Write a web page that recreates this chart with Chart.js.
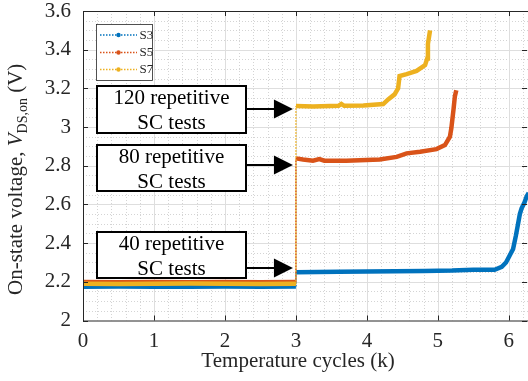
<!DOCTYPE html>
<html>
<head>
<meta charset="utf-8">
<script src="https://cdn.jsdelivr.net/npm/chart.js@4.4.1/dist/chart.umd.min.js"></script>
<style>
    html, body { margin: 0; padding: 0; background: #fff; }
    #wrap { width: 528px; height: 381px; }
</style>
</head>
<body>
<div id="wrap"><canvas id="vds-chart" width="528" height="381"></canvas></div>
<script>
// Data (x in thousands of temperature cycles, y in volts)
const s3X = [0, 0.5, 1.0, 1.5, 2.0, 2.5, 3.0, 3.0, 3.3, 3.6, 4.0, 4.4, 4.8, 5.2, 5.5, 5.7, 5.8, 5.9, 5.96, 6.01, 6.06, 6.1, 6.13, 6.155, 6.18, 6.22, 6.25, 6.28];
const s3Y = [2.175, 2.176, 2.174, 2.175, 2.176, 2.175, 2.176, 2.250, 2.251, 2.252, 2.253, 2.255, 2.256, 2.258, 2.262, 2.263, 2.262, 2.277, 2.300, 2.335, 2.370, 2.440, 2.500, 2.550, 2.580, 2.610, 2.640, 2.660];

const s5X = [0, 0.5, 1.0, 1.5, 2.0, 2.5, 3.0, 3.0, 3.1, 3.24, 3.33, 3.4, 3.71, 4.18, 4.42, 4.56, 4.75, 4.98, 5.10, 5.17, 5.19, 5.22, 5.24, 5.26];
const s5Y = [2.199, 2.198, 2.199, 2.198, 2.199, 2.198, 2.199, 2.838, 2.832, 2.826, 2.834, 2.826, 2.826, 2.832, 2.846, 2.864, 2.872, 2.886, 2.907, 2.950, 2.994, 3.090, 3.160, 3.190];

const s7X = [0, 0.5, 1.0, 1.5, 2.0, 2.5, 3.0, 3.0, 3.24, 3.6, 3.64, 3.68, 3.95, 4.23, 4.30, 4.39, 4.44, 4.46, 4.56, 4.70, 4.82, 4.85, 4.86, 4.89];
const s7Y = [2.190, 2.189, 2.190, 2.191, 2.190, 2.189, 2.190, 3.109, 3.106, 3.110, 3.120, 3.110, 3.112, 3.119, 3.143, 3.169, 3.200, 3.264, 3.274, 3.290, 3.320, 3.355, 3.430, 3.500];

const seriesNames = ['S3', 'S5', 'S7'];
const seriesColors = ['#0072BD', '#D95319', '#EDB120'];

const xTicks = [0, 1, 2, 3, 4, 5, 6];
const yTicks = [2, 2.2, 2.4, 2.6, 2.8, 3, 3.2, 3.4, 3.6];

const annotations = [
    { lines: ['120 repetitive', 'SC tests'], top: 86, bottom: 133, arrowY: 109 },
    { lines: ['80 repetitive', 'SC tests'], top: 145, bottom: 191, arrowY: 165 },
    { lines: ['40 repetitive', 'SC tests'], top: 232, bottom: 278, arrowY: 268 }
];

const SERIF = "'Liberation Serif', 'Times New Roman', serif";
const AXIS_COLOR = '#262626';

const toPoints = (xs, ys) => xs.map((x, i) => ({ x: x, y: ys[i] }));

// The step at 3 k cycles is drawn as a thin dotted line (MATLAB ':' style)
const isJump = ctx => ctx.p0.parsed.x === ctx.p1.parsed.x;

function makeDataset(name, color, xs, ys, order) {
    return {
        label: name,
        data: toPoints(xs, ys),
        borderColor: color,
        backgroundColor: color,
        borderWidth: 4.5,
        pointRadius: 0,
        tension: 0,
        order: order,
        segment: {
            borderDash: ctx => isJump(ctx) ? [1.5, 1.5] : undefined,
            borderWidth: ctx => isJump(ctx) ? 1.5 : undefined
        }
    };
}

// Grid, box, inward ticks, legend, annotations and axis titles
const matlabAxes = {
    id: 'matlabAxes',
    beforeDatasetsDraw(chart) {
        const { ctx, chartArea: a, scales: { x, y } } = chart;
        ctx.save();
        ctx.beginPath();
        ctx.rect(a.left, a.top, a.right - a.left, a.bottom - a.top);
        ctx.clip();

        // minor grid (dotted)
        ctx.strokeStyle = '#d4d4d4';
        ctx.lineWidth = 1;
        ctx.setLineDash([1, 2]);
        ctx.beginPath();
        for (let v = 0; v <= x.max + 1e-9; v += 0.2) {
            const px = Math.round(x.getPixelForValue(v)) + 0.5;
            ctx.moveTo(px, a.top); ctx.lineTo(px, a.bottom);
        }
        for (let v = y.min; v <= y.max + 1e-9; v += 0.05) {
            const py = Math.round(y.getPixelForValue(v)) + 0.5;
            ctx.moveTo(a.left, py); ctx.lineTo(a.right, py);
        }
        ctx.stroke();

        // major grid
        ctx.setLineDash([]);
        ctx.strokeStyle = '#dedede';
        ctx.beginPath();
        xTicks.forEach(v => {
            const px = Math.round(x.getPixelForValue(v)) + 0.5;
            ctx.moveTo(px, a.top); ctx.lineTo(px, a.bottom);
        });
        yTicks.forEach(v => {
            const py = Math.round(y.getPixelForValue(v)) + 0.5;
            ctx.moveTo(a.left, py); ctx.lineTo(a.right, py);
        });
        ctx.stroke();
        ctx.restore();
    },
    afterDatasetsDraw(chart) {
        const { ctx, chartArea: a, scales: { x, y } } = chart;
        ctx.save();

        // axes box
        ctx.strokeStyle = AXIS_COLOR;
        ctx.lineWidth = 1;
        ctx.beginPath();
        ctx.moveTo(a.left + 0.5, a.top + 0.5);
        ctx.lineTo(a.left + 0.5, a.bottom + 0.5);
        ctx.lineTo(a.right, a.bottom + 0.5);
        ctx.moveTo(a.left, a.top + 0.5);
        ctx.lineTo(a.right, a.top + 0.5);
        // inward tick marks
        const tl = 5;
        xTicks.forEach(v => {
            const px = Math.round(x.getPixelForValue(v)) + 0.5;
            ctx.moveTo(px, a.bottom); ctx.lineTo(px, a.bottom - tl);
            ctx.moveTo(px, a.top); ctx.lineTo(px, a.top + tl);
        });
        yTicks.forEach(v => {
            const py = Math.round(y.getPixelForValue(v)) + 0.5;
            ctx.moveTo(a.left, py); ctx.lineTo(a.left + tl, py);
            ctx.moveTo(a.right - 1, py); ctx.lineTo(a.right - 1 - tl, py);
        });
        ctx.stroke();

        // legend
        const lg = { left: 96, top: 24, right: 152, bottom: 80 };
        ctx.fillStyle = '#fff';
        ctx.fillRect(lg.left, lg.top, lg.right - lg.left, lg.bottom - lg.top);
        ctx.strokeStyle = AXIS_COLOR;
        ctx.lineWidth = 0.8;
        ctx.strokeRect(lg.left + 0.5, lg.top + 0.5, lg.right - lg.left, lg.bottom - lg.top);
        const rowY = [35, 52.5, 69.5];
        ctx.font = '13px ' + SERIF;
        ctx.textBaseline = 'middle';
        ctx.textAlign = 'left';
        seriesNames.forEach((name, i) => {
            ctx.strokeStyle = seriesColors[i];
            ctx.lineWidth = 1.5;
            ctx.setLineDash([1.5, 1.5]);
            ctx.beginPath();
            ctx.moveTo(100, rowY[i]); ctx.lineTo(137, rowY[i]);
            ctx.stroke();
            ctx.setLineDash([]);
            ctx.fillStyle = seriesColors[i];
            ctx.beginPath();
            ctx.arc(118.5, rowY[i], 2.2, 0, Math.PI * 2);
            ctx.fill();
            ctx.fillStyle = AXIS_COLOR;
            ctx.fillText(name, 139.5, rowY[i] + 0.5);
        });

        // annotation boxes with arrows pointing at the 3 k step
        const boxL = 97, boxR = 246;
        const tipX = x.getPixelForValue(3) - 3;
        ctx.font = '21px ' + SERIF;
        ctx.textAlign = 'center';
        ctx.textBaseline = 'alphabetic';
        annotations.forEach(an => {
            ctx.fillStyle = '#fff';
            ctx.fillRect(boxL, an.top, boxR - boxL, an.bottom - an.top);
            ctx.strokeStyle = '#000';
            ctx.lineWidth = 2;
            ctx.strokeRect(boxL, an.top, boxR - boxL, an.bottom - an.top);
            ctx.fillStyle = '#000';
            ctx.fillText(an.lines[0], (boxL + boxR) / 2, an.top + 18);
            ctx.fillText(an.lines[1], (boxL + boxR) / 2, an.top + 43);

            ctx.beginPath();
            ctx.moveTo(boxR, an.arrowY);
            ctx.lineTo(tipX - 17, an.arrowY);
            ctx.stroke();
            ctx.beginPath();
            ctx.moveTo(tipX, an.arrowY);
            ctx.lineTo(tipX - 19, an.arrowY - 9.5);
            ctx.lineTo(tipX - 19, an.arrowY + 9.5);
            ctx.closePath();
            ctx.fill();
        });

        // x axis title
        ctx.fillStyle = AXIS_COLOR;
        ctx.font = '21px ' + SERIF;
        ctx.textAlign = 'center';
        ctx.fillText('Temperature cycles (k)', 298, 367);

        // y axis title with italic V and subscript
        ctx.translate(21.5, 295);
        ctx.rotate(-Math.PI / 2);
        ctx.textAlign = 'left';
        const parts = [
            { t: 'On-state voltage, ', f: '21px ' + SERIF, dy: 0 },
            { t: 'V', f: 'italic 21px ' + SERIF, dy: 0 },
            { t: 'DS,on', f: '14px ' + SERIF, dy: 5 },
            { t: ' (V)', f: '21px ' + SERIF, dy: 0 }
        ];
        let cx = 0;
        parts.forEach(p => {
            ctx.font = p.f;
            ctx.fillText(p.t, cx, p.dy);
            cx += ctx.measureText(p.t).width;
        });
        ctx.restore();
    }
};

// keep the plot box where the reference has it (no extra room for edge labels)
function noEdgePadding(scale) {
    scale.paddingTop = 0;
    scale.paddingBottom = 0;
    scale.paddingLeft = 0;
    scale.paddingRight = 0;
}

const chart = new Chart(document.getElementById('vds-chart'), {
    type: 'line',
    data: {
        datasets: [
            makeDataset(seriesNames[0], seriesColors[0], s3X, s3Y, 3),
            makeDataset(seriesNames[1], seriesColors[1], s5X, s5Y, 2),
            makeDataset(seriesNames[2], seriesColors[2], s7X, s7Y, 1)
        ]
    },
    options: {
        responsive: false,
        animation: false,
        devicePixelRatio: 1,
        layout: { padding: { top: 11, right: 0, left: 0, bottom: 0 } },
        plugins: {
            legend: { display: false },
            tooltip: { enabled: false }
        },
        scales: {
            x: {
                type: 'linear',
                min: 0,
                max: 6.27,
                grid: { display: false, drawTicks: false },
                border: { display: false },
                afterBuildTicks: scale => {
                    scale.ticks = xTicks.map(v => ({ value: v }));
                },
                afterFit: scale => { scale.height = 60.5; noEdgePadding(scale); },
                ticks: {
                    padding: 8,
                    color: AXIS_COLOR,
                    font: { family: SERIF, size: 21 },
                    callback: v => String(v)
                }
            },
            y: {
                min: 2,
                max: 3.6,
                grid: { display: false, drawTicks: false },
                border: { display: false },
                afterBuildTicks: scale => {
                    scale.ticks = yTicks.map(v => ({ value: v }));
                },
                afterFit: scale => { scale.width = 83; noEdgePadding(scale); },
                ticks: {
                    padding: 12,
                    color: AXIS_COLOR,
                    font: { family: SERIF, size: 21 },
                    callback: v => String(v)
                }
            }
        }
    },
    plugins: [matlabAxes]
});
</script>
</body>
</html>
